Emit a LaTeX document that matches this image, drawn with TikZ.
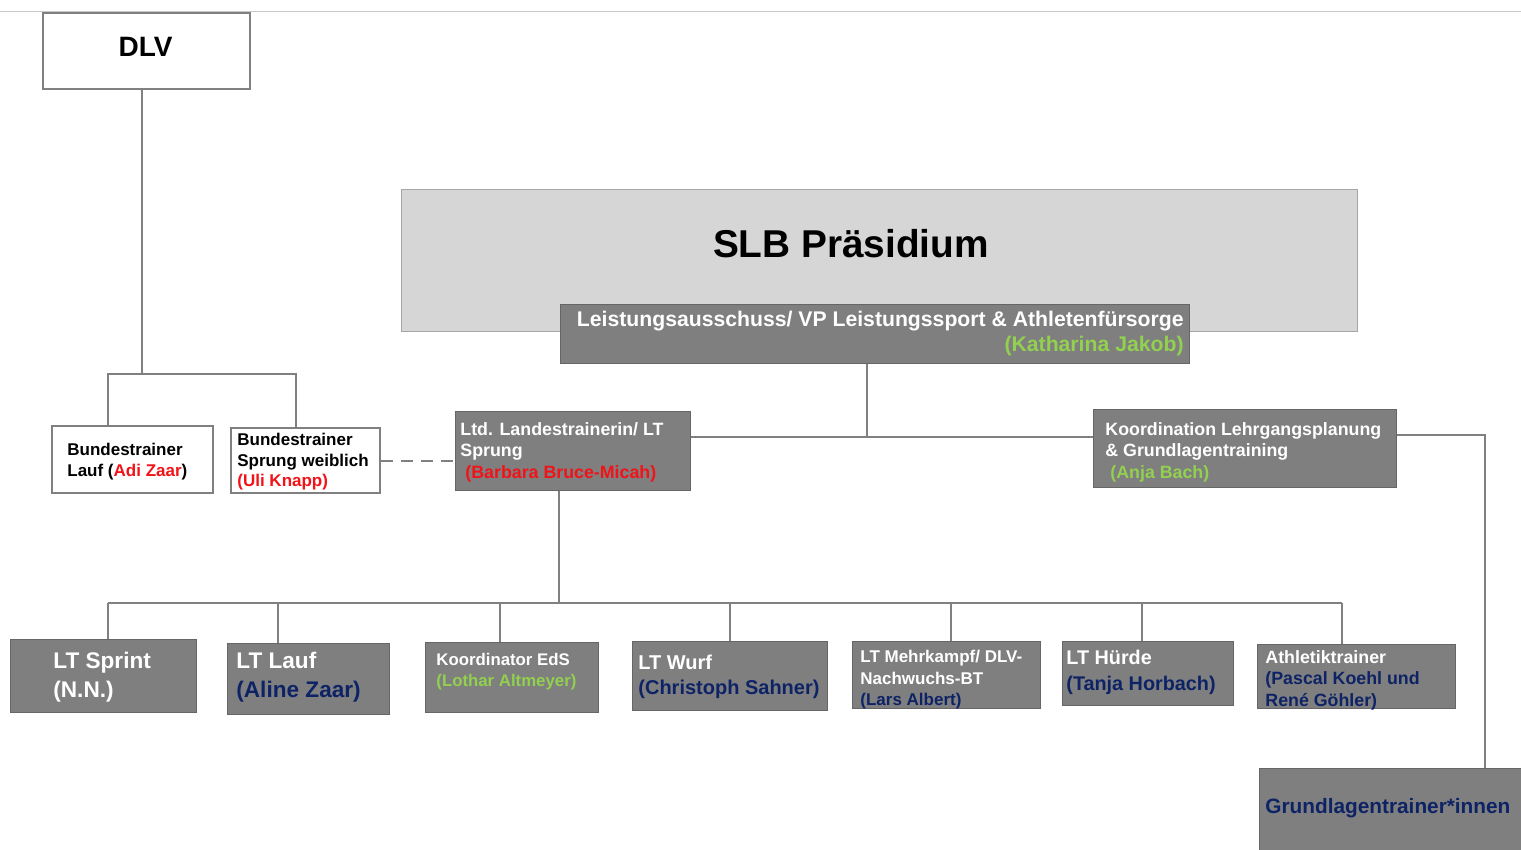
\documentclass[tikz,border=0pt]{standalone}
\usepackage{fontspec}
\setmainfont{Liberation Sans}
\definecolor{boxgrey}{HTML}{7F7F7F}
\definecolor{edgegrey}{HTML}{666666}
\definecolor{slbgrey}{HTML}{D6D6D6}
\definecolor{slbedge}{HTML}{A6A6A6}
\definecolor{linegrey}{HTML}{808080}
\definecolor{rulegrey}{HTML}{C8C8C8}
\definecolor{namegreen}{HTML}{92D050}
\definecolor{namered}{HTML}{F21218}
\definecolor{namenavy}{HTML}{0E2366}
\newcommand{\boxfont}[2]{\bfseries\fontsize{#1}{#2}\selectfont}

\begin{document}
\begin{tikzpicture}[x=0.5pt, y=-0.5pt]
  \tikzset{
    grey_box/.style={rectangle, anchor=north west, inner sep=0pt, fill=boxgrey, draw=edgegrey, line width=0.6pt},
    white_box/.style={rectangle, anchor=north west, inner sep=0pt, fill=white, draw=linegrey, line width=1pt},
    box_text/.style={anchor=west, align=left, inner sep=0pt, text=white, yshift=-1.25pt},
    link/.style={draw=linegrey, line width=1pt}
  }
  \useasboundingbox (0,0) rectangle (1521,850);

  % Linie oben
  \draw[rulegrey, line width=0.5pt] (0,12) -- (1521,12);

  % DLV
  \node[white_box, minimum width=103.5pt, minimum height=38pt] (dlv) at (42,12) {};
  \node[inner sep=0pt, font=\boxfont{14}{16}] (dlv-t) at (145.5,47) {DLV};

  % SLB Praesidium und Leistungsausschuss
  \node[rectangle, anchor=north west, inner sep=0pt, fill=slbgrey, draw=slbedge, line width=0.6pt,
        minimum width=478pt, minimum height=71pt] (slb) at (401,189) {};
  \node[inner sep=0pt, font=\boxfont{19.4}{22}] (slb-t) at (851,244) {SLB Präsidium};
  \node[grey_box, minimum width=314.5pt, minimum height=29.5pt] (lasv) at (560,304) {};
  \node[box_text, anchor=east, align=right, font=\boxfont{10.6}{12.5}] (lasv-t) at (1184,331.5)
    {Leistungsausschuss/ VP Leistungssport \& Athletenfürsorge\\\textcolor{namegreen}{(Katharina Jakob)}};

  % Bundestrainer
  \node[white_box, minimum width=80.5pt, minimum height=33.5pt] (btlauf) at (51,425) {};
  \node[box_text, text=black, font=\boxfont{8.5}{10.5}] (btlauf-t) at (67,459.5)
    {Bundestrainer\\Lauf (\textcolor{namered}{Adi Zaar})};
  \node[white_box, minimum width=74.5pt, minimum height=32.5pt] (btsprung) at (230,427) {};
  \node[box_text, text=black, font=\boxfont{8.5}{10.3}] (btsprung-t) at (237,459.5)
    {Bundestrainer\\Sprung weiblich\\\textcolor{namered}{(Uli Knapp)}};

  % mittlere Ebene
  \node[grey_box, minimum width=117.5pt, minimum height=39.5pt] (ltd) at (455,411) {};
  \node[box_text, font=\boxfont{8.9}{10.8}] (ltd-t) at (460,449.5)
    {Ltd. Landestrainerin/ LT\\Sprung\\\hspace*{2.5pt}\textcolor{namered}{(Barbara Bruce-Micah)}};
  \node[grey_box, minimum width=151.5pt, minimum height=39pt] (koord) at (1093,409) {};
  \node[box_text, font=\boxfont{8.9}{10.8}] (koord-t) at (1105,449.5)
    {Koordination Lehrgangsplanung\\\& Grundlagentraining\\\hspace*{2.5pt}\textcolor{namegreen}{(Anja Bach)}};

  % untere Ebene
  \node[grey_box, minimum width=93pt, minimum height=36.5pt] (sprint) at (10,639) {};
  \node[box_text, font=\boxfont{11.3}{14.5}] (sprint-t) at (53,674.5) {LT Sprint\\(N.N.)};
  \node[grey_box, minimum width=81pt, minimum height=35.5pt] (lauf) at (227,643) {};
  \node[box_text, font=\boxfont{11.3}{14.5}] (lauf-t) at (236,674.5)
    {LT Lauf\\\textcolor{namenavy}{(Aline Zaar)}};
  \node[grey_box, minimum width=86.5pt, minimum height=35pt] (eds) at (425,642) {};
  \node[box_text, font=\boxfont{8.4}{10.5}] (eds-t) at (436,669.5)
    {Koordinator EdS\\\textcolor{namegreen}{(Lothar Altmeyer)}};
  \node[grey_box, minimum width=97.5pt, minimum height=34.5pt] (wurf) at (632,641) {};
  \node[box_text, font=\boxfont{10}{12.5}] (wurf-t) at (638,674.5)
    {LT Wurf\\\textcolor{namenavy}{(Christoph Sahner)}};
  \node[grey_box, minimum width=94pt, minimum height=33.5pt] (mehrk) at (852,641) {};
  \node[box_text, font=\boxfont{8.5}{10.75}] (mehrk-t) at (860,677.5)
    {LT Mehrkampf/ DLV-\\Nachwuchs-BT\\\textcolor{namenavy}{(Lars Albert)}};
  \node[grey_box, minimum width=85.5pt, minimum height=32pt] (huerde) at (1062,641) {};
  \node[box_text, font=\boxfont{9.9}{13}] (huerde-t) at (1066,670)
    {LT Hürde\\\textcolor{namenavy}{(Tanja Horbach)}};
  \node[grey_box, minimum width=99pt, minimum height=32pt] (athl) at (1257,644) {};
  \node[box_text, font=\boxfont{8.9}{10.75}] (athl-t) at (1265,677.5)
    {Athletiktrainer\\\textcolor{namenavy}{(Pascal Koehl und}\\\textcolor{namenavy}{René Göhler)}};
  \node[grey_box, minimum width=132pt, minimum height=41pt] (grund) at (1259,768) {};
  \node[box_text, text=namenavy, font=\boxfont{10.4}{12.5}] (grund-t) at (1265,806)
    {Grundlagentrainer*innen};

  % Verbindungen
  \coordinate (dlvfoot) at (142,374);
  \coordinate (btbus-l) at (108,374);
  \coordinate (btbus-r) at (296,374);
  \draw[link] (dlv.south -| dlvfoot) -- (dlvfoot);
  \draw[link] (btlauf.north -| btbus-l) -- (btbus-l) -- (btbus-r) -- (btsprung.north -| btbus-r);
  \draw[link, dashed, dash pattern=on 6pt off 4pt] (btsprung.east) -- (ltd.west |- btsprung.east);

  \coordinate (lasvfoot) at (867,437);
  \draw[link] (lasv.south -| lasvfoot) -- (lasvfoot);
  \draw[link] (ltd.east |- lasvfoot) -- (koord.west |- lasvfoot);
  \coordinate (grundturn) at (1485,435);
  \draw[link] (koord.east |- grundturn) -- (grundturn) -- (grund.north -| grundturn);

  \coordinate (ltdfoot) at (559,603);
  \coordinate (bus-l) at (108,603);
  \coordinate (bus-r) at (1342,603);
  \draw[link] (ltd.south -| ltdfoot) -- (ltdfoot);
  \draw[link] (bus-l) -- (bus-r);
  \foreach \nm/\xx in {sprint/108, lauf/278, eds/500, wurf/730, mehrk/951, huerde/1142, athl/1342}
    \draw[link] (\xx,603) -- (\xx,603 |- \nm.north);
\end{tikzpicture}
\end{document}
